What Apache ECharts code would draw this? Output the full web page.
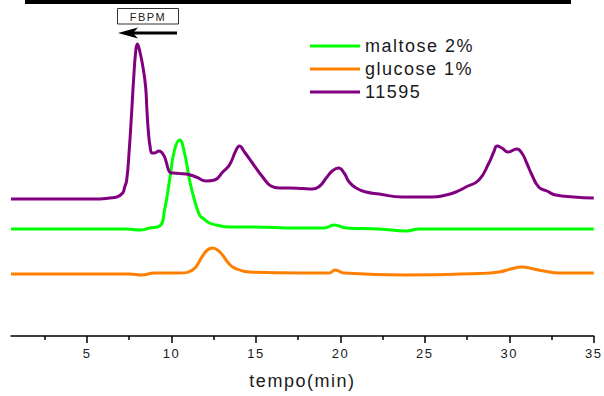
<!DOCTYPE html>
<html>
<head>
<meta charset="utf-8">
<script src="https://cdn.jsdelivr.net/npm/echarts@6/dist/echarts.min.js"></script>
<style>
  html, body { margin: 0; padding: 0; background: #ffffff; }
  #chart { width: 604px; height: 396px; }
  #chart text { letter-spacing: 1.5px; }
</style>
</head>
<body>
<div id="chart"></div>
<script>
// Axis tick positions (minutes)
const majorTicks = [5, 10, 15, 20, 25, 30, 35];
const minorTicks = [2.5, 7.5, 12.5, 17.5, 22.5, 27.5, 32.5];

// Series names, in legend order
const seriesNames = ['maltose 2%', 'glucose 1%', '11595'];

// Detector response (stacked offsets included), [tempo, signal]
const maltose = [
  [0.5, 107], [3.4, 107], [5.75, 107], [7.35, 107], [8.12, 106], [8.71, 108],
  [9.3, 110], [9.59, 126], [9.89, 156], [10.18, 186], [10.48, 196], [10.77, 183],
  [11.07, 156], [11.36, 136], [11.66, 121], [11.84, 118], [12.25, 113], [12.66, 111],
  [13.43, 109], [14.61, 109], [17.57, 108], [19.04, 108], [19.63, 111], [20.34, 108],
  [22.29, 107], [23.9, 105], [24.65, 107], [29.38, 107], [35, 107]
];
const glucose = [
  [0.5, 62], [3.4, 62], [5.75, 62], [7.53, 62], [8.23, 61], [9.0, 63],
  [10.48, 63], [11.25, 66], [11.84, 80], [12.13, 86], [12.43, 88], [12.72, 86],
  [13.02, 81], [13.37, 73], [13.73, 68], [14.61, 64], [17.57, 63], [19.34, 63],
  [19.69, 66], [20.22, 63], [23.9, 61], [28.2, 62.5], [29.38, 64], [30.09, 67],
  [30.74, 69], [31.45, 67], [32.04, 65], [32.93, 63], [35, 63]
];
const sample11595 = [
  [0.5, 137], [3.4, 137], [5.75, 137], [6.34, 138], [6.76, 139], [7.11, 143],
  [7.23, 149], [7.35, 156], [7.5, 186], [7.64, 223], [7.76, 257], [7.88, 284],
  [7.98, 292], [8.12, 285], [8.31, 269], [8.47, 249], [8.55, 225], [8.63, 205],
  [8.73, 190], [8.85, 183], [9.0, 183], [9.26, 185], [9.53, 181], [9.69, 174],
  [9.89, 164], [10.08, 163], [10.87, 162], [11.46, 159], [12.06, 155], [12.55, 156],
  [13.04, 164], [13.43, 171], [13.83, 186], [14.02, 190], [14.32, 184], [14.79, 173],
  [15.4, 159], [15.89, 150], [16.39, 148], [16.98, 148], [17.74, 147.5], [18.33, 147],
  [18.75, 149.5], [19.16, 158], [19.52, 165], [19.89, 168], [20.22, 163], [20.52, 154],
  [20.93, 148], [21.52, 144], [22.29, 142], [23.65, 139], [25.42, 139], [26.25, 141],
  [26.84, 144], [27.43, 149], [28.2, 156], [28.79, 173], [29.08, 184], [29.28, 190],
  [29.56, 188], [29.93, 184], [30.44, 187], [30.74, 183], [31.03, 173], [31.34, 161],
  [31.74, 149], [32.22, 145], [32.75, 141], [33.81, 139], [35, 138]
];

const seriesData = [maltose, glucose, sample11595];
const seriesColors = ['#00ff00', '#ff8000', '#800080'];

const FONT = 'Liberation Sans, Arial, sans-serif';
const chart = echarts.init(document.getElementById('chart'), null, { renderer: 'svg' });

chart.setOption({
  animation: false,
  backgroundColor: '#ffffff',
  grid: { left: 11, right: 9, top: 10, bottom: 60 },
  legend: {
    orient: 'vertical',
    left: 310,
    top: 37,
    padding: 0,
    icon: 'rect',
    itemWidth: 50,
    itemHeight: 3,
    itemGap: 5,
    data: seriesNames,
    textStyle: { fontFamily: FONT, fontSize: 18, color: '#1a1a1a', lineHeight: 18 }
  },
  xAxis: [
    {
      type: 'value',
      min: 0.5,
      max: 35,
      position: 'bottom',
      name: 'tempo(min)',
      nameLocation: 'middle',
      nameGap: 36,
      nameTextStyle: { fontFamily: FONT, fontSize: 18, color: '#1a1a1a' },
      splitLine: { show: false },
      axisLine: { lineStyle: { color: '#000', width: 1.5 } },
      axisTick: { customValues: majorTicks, length: 7, lineStyle: { color: '#000', width: 1.5 } },
      axisLabel: { customValues: majorTicks, margin: 11, fontFamily: FONT, fontSize: 13, color: '#1a1a1a' }
    },
    {
      type: 'value',
      min: 0.5,
      max: 35,
      position: 'bottom',
      splitLine: { show: false },
      axisLine: { show: false },
      axisTick: { customValues: minorTicks, length: 4, lineStyle: { color: '#000', width: 1.5 } },
      axisLabel: { show: false }
    }
  ],
  yAxis: {
    type: 'value',
    min: 0,
    max: 326,
    show: false
  },
  series: seriesNames.map((name, i) => ({
    name: name,
    type: 'line',
    xAxisIndex: 0,
    data: seriesData[i],
    symbol: 'none',
    smooth: 0.5,
    color: seriesColors[i],
    lineStyle: { color: seriesColors[i], width: 3 }
  })),
  graphic: [
    // heavy rule along the top edge
    { type: 'rect', shape: { x: 25, y: 0, width: 546, height: 4 }, style: { fill: '#000' } },
    // elution direction marker
    { type: 'rect', shape: { x: 117.5, y: 8.5, width: 61, height: 15.5 }, style: { fill: '#fff', stroke: '#333', lineWidth: 1 } },
    { type: 'text', x: 148, y: 16.5, style: { text: 'FBPM', fontFamily: FONT, fontSize: 11, fill: '#222', align: 'center', verticalAlign: 'middle' } },
    { type: 'line', shape: { x1: 132, y1: 33, x2: 177, y2: 33 }, style: { stroke: '#000', lineWidth: 3 } },
    { type: 'polygon', shape: { points: [[118, 33], [138, 27.5], [133, 33], [138, 38.5]] }, style: { fill: '#000' } }
  ]
});
</script>
</body>
</html>
